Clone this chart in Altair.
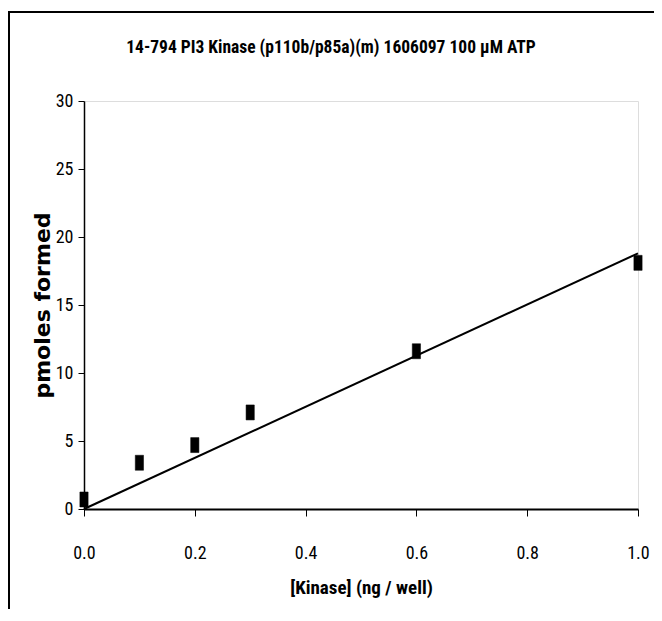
import altair as alt
import pandas as pd

# measured data points
kinase = [0.0, 0.1, 0.2, 0.3, 0.6, 1.0]
pmoles = [0.7, 3.4, 4.7, 7.1, 11.6, 18.1]

# fitted line
fit_x = [0.0, 1.0]
fit_y = [0.0, 18.8]

title_text = ["14-794 PI3 Kinase (p110b/p85a)(m) 1606097 100 µM ATP"]
x_title = "[Kinase] (ng / well)"
y_title = "pmoles formed"

narrow = "Liberation Sans Narrow, Arial Narrow, Roboto Condensed, Liberation Sans, sans-serif"

pts = pd.DataFrame({"x": kinase, "y": pmoles})
fit = pd.DataFrame({"x": fit_x, "y": fit_y})
ttl = pd.DataFrame({"t": title_text})

xs = alt.Scale(domain=[0, 1], nice=False, zero=False)
ys = alt.Scale(domain=[0, 30], nice=False)

xaxis = alt.Axis(values=[0, 0.2, 0.4, 0.6, 0.8, 1.0], format=".1f", title=x_title,
                 grid=False, domainColor="black", domainWidth=2, tickColor="black",
                 tickSize=7, tickWidth=1, labelFont=narrow, labelFontSize=18,
                 labelColor="black", labelPadding=28, titleFont=narrow, titleFontSize=19,
                 titleFontWeight="bold", titleColor="black", titlePadding=16,
                 labelFlush=False)
yaxis = alt.Axis(values=[0, 5, 10, 15, 20, 25, 30], title=y_title, grid=False,
                 domainColor="black", domainWidth=1.5, tickColor="black", tickSize=6,
                 tickWidth=1, labelFont=narrow, labelFontSize=18, labelColor="black",
                 labelPadding=5, titleFont="DejaVu Sans", titleFontSize=22,
                 titleFontWeight="bold", titleColor="black", titlePadding=1,
                 labelFlush=False)

frame = alt.Chart(pd.DataFrame({"a": [0]})).mark_rect(
    filled=False, stroke="black", strokeWidth=2, clip=False
).encode(x=alt.value(-75), y=alt.value(-89), x2=alt.value(800), y2=alt.value(800))

title = alt.Chart(ttl).mark_text(
    font=narrow, fontSize=17.5, fontWeight="bold", color="black",
    align="center", baseline="middle", clip=False
).encode(text="t:N", x=alt.value(247), y=alt.value(-53))

line = alt.Chart(fit).mark_line(color="black", strokeWidth=2, clip=False).encode(
    x=alt.X("x:Q", scale=xs, axis=xaxis),
    y=alt.Y("y:Q", scale=ys, axis=yaxis),
)

points = alt.Chart(pts).mark_point(
    shape="M-0.55,-1 L0.55,-1 L0.55,1 L-0.55,1 Z", size=225, filled=True,
    fill="black", stroke="black", strokeWidth=0.5, opacity=1, clip=False
).encode(x=alt.X("x:Q", scale=xs), y=alt.Y("y:Q", scale=ys))

chart = alt.layer(frame, title, line, points).properties(
    width=554, height=408,
    autosize=alt.AutoSizeParams(type="none"),
    padding={"left": 76, "top": 93, "right": 16, "bottom": 100},
).configure_view(stroke="#808080", strokeWidth=1.5).configure(background="white")

chart.save("out.html", embed_options={"renderer": "svg", "actions": False})
